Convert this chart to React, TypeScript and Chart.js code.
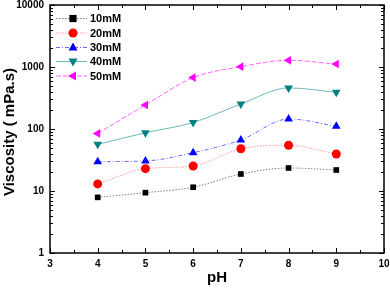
import React, { useEffect, useRef } from "react";
import { Chart, registerables } from "chart.js";

Chart.register(...registerables);

const phValues = [4, 5, 6, 7, 8, 9];
const seriesLabels = ["10mM", "20mM", "30mM", "40mM", "50mM"];
const visc10 = [7.9, 9.4, 11.5, 18.8, 23.5, 21.8];
const visc20 = [13, 22.9, 25.3, 48, 54.6, 39.5];
const visc30 = [29.7, 30.5, 41.5, 66.5, 145, 111];
const visc40 = [56.6, 87, 127, 253, 460, 390];
const visc50 = [85, 244, 674, 1012, 1282, 1117];
const yTickValues = [1, 10, 100, 1000, 10000];
const xTitle = "pH";
const yTitle = "Viscosity ( mPa.s)";

const seriesValues = [visc10, visc20, visc30, visc40, visc50];
const markerColors = ["#000000", "#ff0000", "#0000ff", "#008080", "#ff00ff"];
const lineColors = ["#808080", "#ff9a9a", "#6a6aff", "#6fb8b8", "#ff66ff"];
const lineDashes = [[1.5, 1.5], [1.5, 1.5], [4, 2, 1, 2], [], [5, 2]];
const pointStyles = ["rect", "circle", "triangle", "triangle", "triangle"];
const pointRotations = [0, 0, 0, 180, 270];
const pointRadii = [4, 4.5, 5, 5, 5];

function drawMarker(ctx: CanvasRenderingContext2D, i: number, x: number, y: number) {
  const r = pointRadii[i];
  ctx.save();
  ctx.fillStyle = markerColors[i];
  ctx.translate(x, y);
  ctx.rotate((pointRotations[i] * Math.PI) / 180);
  ctx.beginPath();
  if (pointStyles[i] === "rect") {
    const s = r * 0.9;
    ctx.rect(-s, -s, 2 * s, 2 * s);
  } else if (pointStyles[i] === "circle") {
    ctx.arc(0, 0, r, 0, Math.PI * 2);
  } else {
    ctx.moveTo(0, -r);
    ctx.lineTo(r * 0.9, r * 0.6);
    ctx.lineTo(-r * 0.9, r * 0.6);
    ctx.closePath();
  }
  ctx.fill();
  ctx.restore();
}

const framePlugin = {
  id: "framePlugin",
  afterDatasetsDraw(chart: any) {
    const ctx = chart.ctx as CanvasRenderingContext2D;
    const { left, right, top, bottom } = chart.chartArea;
    const xs = chart.scales.x;
    const ys = chart.scales.y;
    ctx.save();
    ctx.strokeStyle = "#000";
    ctx.lineWidth = 1.5;
    ctx.strokeRect(left, top, right - left, bottom - top);
    ctx.lineWidth = 1;
    ctx.beginPath();
    for (let v = 3; v <= 10.001; v += 0.5) {
      const px = Math.round(xs.getPixelForValue(v)) + 0.5;
      const len = Math.abs(v - Math.round(v)) < 0.01 ? 5 : 3;
      ctx.moveTo(px, bottom);
      ctx.lineTo(px, bottom - len);
      ctx.moveTo(px, top);
      ctx.lineTo(px, top + len);
    }
    for (let d = 0; d < 4; d++) {
      for (let m = 1; m <= 10; m++) {
        const v = m * Math.pow(10, d);
        const py = Math.round(ys.getPixelForValue(v)) + 0.5;
        const len = m === 1 || m === 10 ? 5 : 3;
        ctx.moveTo(left, py);
        ctx.lineTo(left + len, py);
        ctx.moveTo(right, py);
        ctx.lineTo(right - len, py);
      }
    }
    ctx.stroke();

    ctx.fillStyle = "#000";
    ctx.font = "bold 15px Arial, 'Liberation Sans', sans-serif";
    ctx.textAlign = "center";
    ctx.textBaseline = "middle";
    ctx.fillText(xTitle, (left + right) / 2, 278);
    ctx.save();
    ctx.translate(10, (top + bottom) / 2 + 3);
    ctx.rotate(-Math.PI / 2);
    ctx.fillText(yTitle, 0, 0);
    ctx.restore();

    const lx0 = 56;
    const lx1 = 87;
    const mx = 73;
    const rowY = [18, 32.5, 47, 61, 75.5];
    ctx.font = "bold 11px Arial, 'Liberation Sans', sans-serif";
    ctx.textAlign = "left";
    ctx.textBaseline = "middle";
    for (let i = 0; i < seriesLabels.length; i++) {
      const y = rowY[i];
      ctx.save();
      ctx.strokeStyle = lineColors[i];
      ctx.lineWidth = 1;
      ctx.setLineDash(lineDashes[i]);
      ctx.beginPath();
      ctx.moveTo(lx0, y + 0.5);
      ctx.lineTo(lx1, y + 0.5);
      ctx.stroke();
      ctx.restore();
      drawMarker(ctx, i, mx, y + 0.5);
      ctx.fillStyle = "#000";
      ctx.fillText(seriesLabels[i], 90, y + 1);
    }
    ctx.restore();
  },
};

export default function App() {
  const canvasRef = useRef<HTMLCanvasElement | null>(null);

  useEffect(() => {
    if (!canvasRef.current) return;
    const datasets = seriesValues.map((vals, i) => ({
      label: seriesLabels[i],
      data: phValues.map((x, j) => ({ x, y: vals[j] })),
      borderColor: lineColors[i],
      backgroundColor: markerColors[i],
      borderWidth: 1,
      borderDash: lineDashes[i],
      pointStyle: pointStyles[i],
      rotation: pointRotations[i],
      pointRadius: pointRadii[i],
      pointBorderWidth: 0,
      pointBackgroundColor: markerColors[i],
      pointBorderColor: markerColors[i],
      cubicInterpolationMode: "monotone" as const,
      fill: false,
    }));
    const tickFont = { family: "Arial, 'Liberation Sans', sans-serif", size: 10, weight: "bold" as const };
    const chart = new Chart(canvasRef.current, {
      type: "line",
      data: { datasets },
      options: {
        animation: false,
        responsive: true,
        maintainAspectRatio: false,
        layout: { autoPadding: false, padding: { top: 5, right: 6, left: 0, bottom: 0 } },
        plugins: { legend: { display: false }, tooltip: { enabled: false } },
        scales: {
          x: {
            type: "linear",
            min: 3,
            max: 10,
            grid: { display: false, drawTicks: false },
            border: { display: false },
            ticks: { stepSize: 1, color: "#000", font: tickFont, padding: 5, maxRotation: 0 },
            afterFit: (s: any) => {
              s.height = 35;
              s.paddingLeft = 0;
              s.paddingRight = 0;
              s.paddingTop = 0;
              s.paddingBottom = 0;
            },
          },
          y: {
            type: "logarithmic",
            min: 1,
            max: 10000,
            grid: { display: false, drawTicks: false },
            border: { display: false },
            ticks: {
              color: "#000",
              font: tickFont,
              padding: 6,
              callback: (v: any) => String(v),
            },
            afterBuildTicks: (s: any) => {
              s.ticks = yTickValues.map((v) => ({ value: v, major: true }));
            },
            afterFit: (s: any) => {
              s.width = 50;
              s.paddingLeft = 0;
              s.paddingRight = 0;
              s.paddingTop = 0;
              s.paddingBottom = 0;
            },
          },
        },
      },
      plugins: [framePlugin],
    });
    return () => chart.destroy();
  }, []);

  return (
    <div style={{ position: "fixed", left: 0, top: 0, width: 390, height: 288, background: "#fff" }}>
      <canvas ref={canvasRef} />
    </div>
  );
}
